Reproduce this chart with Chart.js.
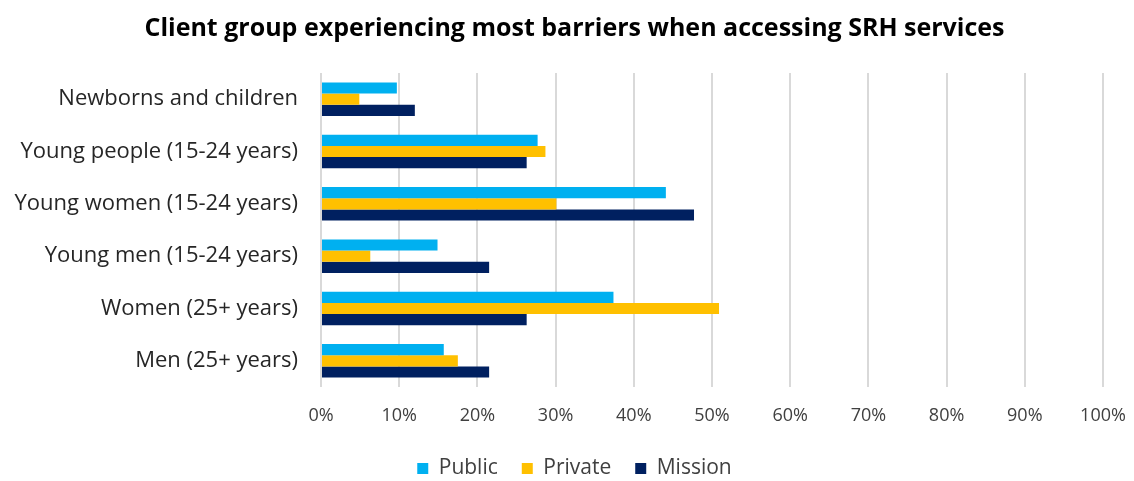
<!DOCTYPE html>
<html>
<head>
<meta charset="utf-8">
<script src="https://cdn.jsdelivr.net/npm/chart.js@4"></script>
<style>
  html, body { margin: 0; padding: 0; background: #fff; }
  #wrap { width: 1134px; height: 481px; position: relative; }
</style>
</head>
<body>
<div id="wrap"><canvas id="barrierChart"></canvas></div>
<script>
const groups = [
  "Newborns and children",
  "Young people (15-24 years)",
  "Young women (15-24 years)",
  "Young men (15-24 years)",
  "Women (25+ years)",
  "Men (25+ years)"
];
const publicShare = [9.7, 27.7, 44.1, 14.9, 37.4, 15.7];
const privateShare = [4.9, 28.7, 30.1, 6.3, 50.9, 17.5];
const missionShare = [12.0, 26.3, 47.7, 21.5, 26.3, 21.5];

const fontFamily = "'Open Sans', 'Liberation Sans', sans-serif";

// Title and legend are centred a little right of the canvas middle,
// without narrowing the space for the long category labels.
const centreShift = {
  id: "centreShift",
  afterLayout(chart) {
    chart.titleBlock.left = 46;
    chart.legend.left = 46;
  }
};

const ctx = document.getElementById("barrierChart").getContext("2d");

new Chart(ctx, {
  type: "bar",
  data: {
    labels: groups,
    datasets: [
      { label: "Public", data: publicShare, backgroundColor: "#00B0F0" },
      { label: "Private", data: privateShare, backgroundColor: "#FFC000" },
      { label: "Mission", data: missionShare, backgroundColor: "#002060" }
    ]
  },
  options: {
    indexAxis: "y",
    responsive: true,
    maintainAspectRatio: false,
    animation: false,
    datasets: {
      bar: { categoryPercentage: 0.64, barPercentage: 1.0 }
    },
    // negative bottom padding lets the legend sit lower than its default box
    layout: { padding: { left: 0, right: 31, top: 0, bottom: -8 } },
    scales: {
      x: {
        min: 0,
        max: 100,
        ticks: {
          stepSize: 10,
          callback: (v) => v + "%",
          color: "#404040",
          font: { family: fontFamily, size: 18 },
          padding: 0
        },
        grid: {
          color: "#d9d9d9",
          lineWidth: 2,
          drawTicks: true,
          tickLength: 18,
          tickColor: "rgba(0,0,0,0)"
        },
        border: { display: false },
        afterFit: (scale) => { scale.height = 47; }
      },
      y: {
        ticks: {
          color: "#262626",
          font: { family: fontFamily, size: 22 },
          padding: 23
        },
        grid: { display: false, drawTicks: false },
        border: { display: false },
        afterFit: (scale) => { scale.width = 321; }
      }
    },
    plugins: {
      title: {
        display: true,
        text: "Client group experiencing most barriers when accessing SRH services",
        color: "#000",
        font: { family: fontFamily, size: 25, weight: "bold" },
        padding: { top: 14, bottom: 29 }
      },
      legend: {
        position: "bottom",
        labels: {
          boxWidth: 11,
          boxHeight: 11,
          padding: 24,
          color: "#404040",
          font: { family: fontFamily, size: 21 }
        }
      },
      tooltip: { enabled: false }
    }
  },
  plugins: [centreShift]
});
</script>
</body>
</html>
